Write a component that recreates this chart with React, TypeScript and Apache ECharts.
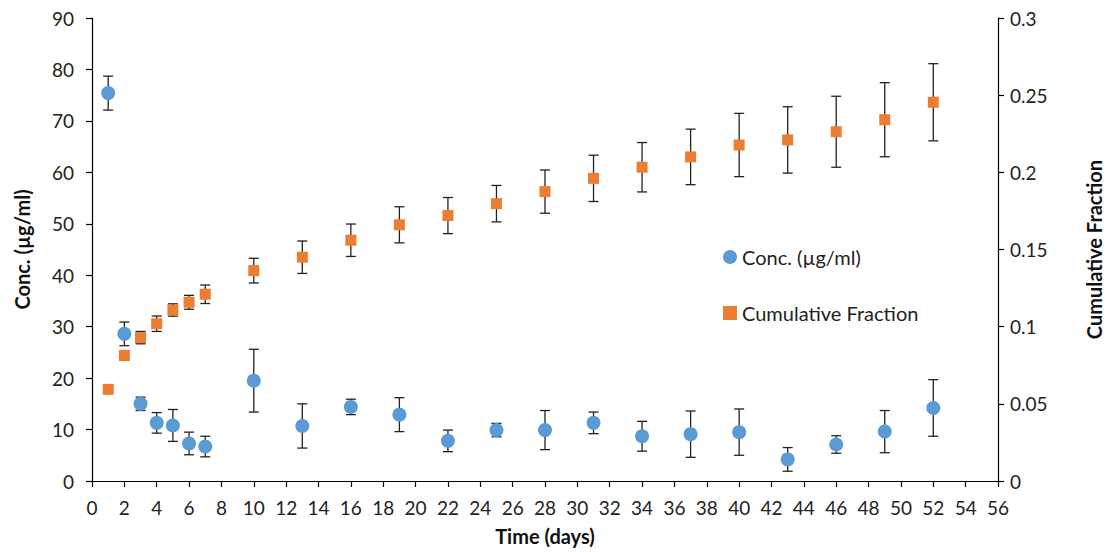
import React, { useEffect, useRef } from "react";
import * as echarts from "echarts";

const days = [1, 2, 3, 4, 5, 6, 7, 10, 13, 16, 19, 22, 25, 28, 31, 34, 37, 40, 43, 46, 49, 52];
const concMean = [75.4, 28.6, 15.0, 11.3, 10.8, 7.3, 6.7, 19.5, 10.7, 14.4, 12.9, 7.8, 9.9, 9.9, 11.3, 8.7, 9.1, 9.5, 4.2, 7.1, 9.6, 14.2];
const concErr = [3.3, 2.3, 1.3, 2.0, 3.1, 2.2, 2.0, 6.1, 4.3, 1.5, 3.3, 2.1, 1.3, 3.8, 2.1, 2.9, 4.5, 4.5, 2.3, 1.7, 4.1, 5.5];
const cumMean = [0.0594, 0.0814, 0.0929, 0.1019, 0.1108, 0.1158, 0.121, 0.1363, 0.145, 0.156, 0.166, 0.172, 0.1797, 0.1875, 0.1961, 0.2033, 0.21, 0.2177, 0.221, 0.2263, 0.2341, 0.2454];
const cumErr = [0.001, 0.003, 0.004, 0.005, 0.004, 0.0045, 0.006, 0.008, 0.0105, 0.0105, 0.0117, 0.0117, 0.0118, 0.014, 0.015, 0.016, 0.018, 0.0205, 0.0215, 0.023, 0.024, 0.025];

const FONT = "Lato";
const BLUE = "#5B9BD5";
const ORANGE = "#ED7D31";

function errorRenderer(params: any, api: any) {
  const x = api.value(0);
  const lo = api.coord([x, api.value(1)]);
  const hi = api.coord([x, api.value(2)]);
  const cap = 5;
  const style = { stroke: "#222", lineWidth: 1.3 };
  return {
    type: "group",
    children: [
      { type: "line", shape: { x1: lo[0], y1: lo[1], x2: hi[0], y2: hi[1] }, style },
      { type: "line", shape: { x1: lo[0] - cap, y1: lo[1], x2: lo[0] + cap, y2: lo[1] }, style },
      { type: "line", shape: { x1: hi[0] - cap, y1: hi[1], x2: hi[0] + cap, y2: hi[1] }, style },
    ],
  };
}

export default function App() {
  const ref = useRef<HTMLDivElement>(null);
  useEffect(() => {
    const chart = echarts.init(ref.current!, undefined, { renderer: "svg" });
    const axisLine = { show: true, lineStyle: { color: "#000", width: 1.2 } };
    const axisTick = { show: true, inside: false, length: 6, lineStyle: { color: "#000", width: 1.2 } };
    const axisLabel = { color: "#222", fontSize: 19, fontFamily: FONT };
    const nameStyle = { fontSize: 20, fontWeight: "bold", fontFamily: FONT, color: "#111" };
    chart.setOption({
      animation: false,
      backgroundColor: "#fff",
      grid: { left: 92, right: 107, top: 18, bottom: 71 },
      legend: {
        orient: "vertical",
        left: 718,
        top: 242,
        itemGap: 36,
        itemWidth: 14,
        itemHeight: 14,
        textStyle: { fontSize: 20, fontFamily: FONT, color: "#222" },
        data: [
          { name: "Conc. (µg/ml)", icon: "circle" },
          { name: "Cumulative Fraction", icon: "rect" },
        ],
      },
      xAxis: {
        type: "value",
        min: 0,
        max: 56,
        interval: 2,
        name: "Time (days)",
        nameLocation: "middle",
        nameGap: 45,
        nameTextStyle: nameStyle,
        axisLine,
        axisTick,
        axisLabel: { ...axisLabel, margin: 17 },
        splitLine: { show: false },
      },
      yAxis: [
        {
          type: "value",
          min: 0,
          max: 90,
          interval: 10,
          name: "Conc. (µg/ml)",
          nameLocation: "middle",
          nameGap: 60,
          nameTextStyle: nameStyle,
          axisLine,
          axisTick,
          axisLabel: { ...axisLabel, margin: 18 },
          splitLine: { show: false },
        },
        {
          type: "value",
          min: 0,
          max: 0.3,
          interval: 0.05,
          position: "right",
          name: "Cumulative Fraction",
          nameLocation: "middle",
          nameGap: 86,
          nameRotate: 90,
          nameTextStyle: nameStyle,
          axisLine,
          axisTick,
          axisLabel: { ...axisLabel, margin: 12 },
          splitLine: { show: false },
        },
      ],
      series: [
        {
          type: "custom",
          name: "concErr",
          yAxisIndex: 0,
          renderItem: errorRenderer,
          data: days.map((d, i) => [d, concMean[i] - concErr[i], concMean[i] + concErr[i]]),
          z: 1,
          silent: true,
          encode: { x: 0, y: [1, 2] },
        },
        {
          type: "custom",
          name: "cumErr",
          yAxisIndex: 1,
          renderItem: errorRenderer,
          data: days.map((d, i) => [d, cumMean[i] - cumErr[i], cumMean[i] + cumErr[i]]),
          z: 1,
          silent: true,
          encode: { x: 0, y: [1, 2] },
        },
        {
          type: "scatter",
          name: "Conc. (µg/ml)",
          yAxisIndex: 0,
          symbol: "circle",
          symbolSize: 14,
          itemStyle: { color: BLUE, opacity: 1 },
          data: days.map((d, i) => [d, concMean[i]]),
          z: 3,
        },
        {
          type: "scatter",
          name: "Cumulative Fraction",
          yAxisIndex: 1,
          symbol: "rect",
          symbolSize: 11,
          itemStyle: { color: ORANGE, opacity: 1 },
          data: days.map((d, i) => [d, cumMean[i]]),
          z: 3,
        },
      ],
    });
    return () => chart.dispose();
  }, []);
  return <div ref={ref} style={{ width: 1112, height: 552, position: "absolute", left: 0, top: 0 }} />;
}
